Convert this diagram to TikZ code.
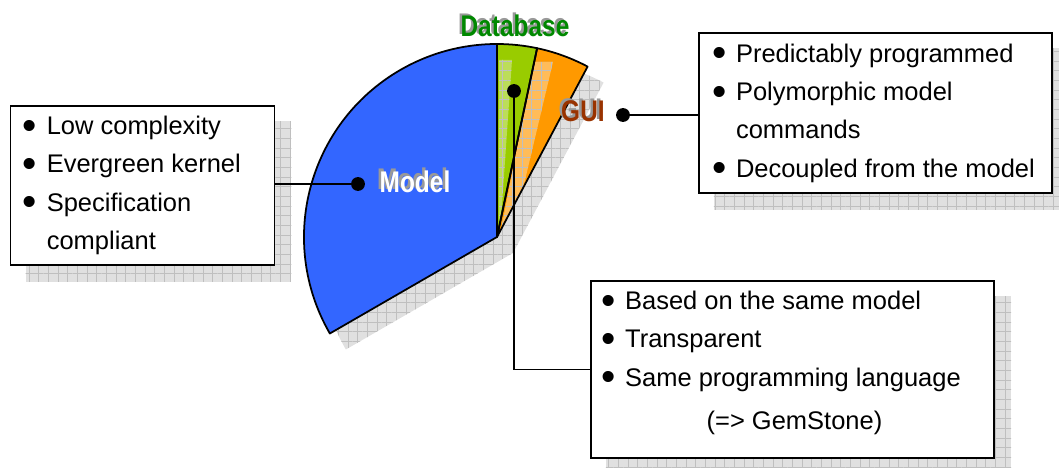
\documentclass[tikz,border=0pt]{standalone}
\usepackage{fontspec}
\setmainfont{Liberation Sans}
\newfontfamily\titlefont[FakeStretch=0.82]{Liberation Sans}
\usetikzlibrary{patterns.meta,backgrounds}

\definecolor{modelblue}{HTML}{3366FF}
\definecolor{dbgreen}{HTML}{99CC00}
\definecolor{guiorange}{HTML}{FF9900}
\definecolor{dbtext}{HTML}{008800}
\definecolor{guitext}{HTML}{993300}

\newcommand\bitem{\makebox[13.6pt][l]{\raisebox{-2.6pt}{\scalebox{1.6}{\textbullet}}}}
\newcommand\bcont{\hspace*{13.6pt}}

\begin{document}
\begin{tikzpicture}[x=0.02cm,y=0.02cm,
  wedge/.style={draw=black,line width=1pt,line join=round},
  gridlines/.style={pattern color=black!25,pattern={Hatch[angle=0,distance=5.5pt,line width=0.35pt]}},
  shadowgrid/.style={fill=black!12,postaction={gridlines}},
  glare/.style={fill=white,fill opacity=0.35,postaction={gridlines,fill opacity=0.6}},
  box/.style={draw=black,line width=1pt,fill=white,inner sep=0pt},
  boxtext/.style={anchor=west,align=left,inner sep=0pt,font=\fontsize{14.5}{21.8}\selectfont},
  title/.style={inner sep=0pt,font=\titlefont\fontsize{17}{20}\selectfont\bfseries},
  dot/.style={circle,fill=black,inner sep=0pt,minimum size=7.9pt},
  link/.style={line width=1pt}]
\useasboundingbox (0,0) rectangle (1059,467);
\coordinate (C) at (497,230);

% shadow of the pie
\fill[shadowgrid] ([shift={(16,-16)}]C) -- ++(210:193) arc[start angle=210,end angle=62,radius=193] -- cycle;

% the three parts
\foreach \a/\b/\c in {210/90/modelblue,90/78/dbgreen,78/62/guiorange}
  \fill[\c] (C) -- ++(\a:193) arc[start angle=\a,end angle=\b,radius=193] -- cycle;
\begin{scope}
  \clip (C) -- ++(90:193) arc[start angle=90,end angle=78,radius=193] -- cycle;
  \fill[glare] (499,407) -- (512,407) -- (500,234) -- (499,234) -- cycle;
\end{scope}
\begin{scope}
  \clip (C) -- ++(78:193) arc[start angle=78,end angle=62,radius=193] -- cycle;
  \fill[glare] (534,405) -- (553,405) -- (517,253) -- (500,232) -- cycle;
\end{scope}
\foreach \a/\b in {210/90,90/78,78/62}
  \draw[wedge] (C) -- ++(\a:193) arc[start angle=\a,end angle=\b,radius=193] -- cycle;

% labels
\node[title,text=black!40] (dbsh) at (512.5,443.5) {Database};
\node[title,text=dbtext] (db) at (515,441) {Database};
\node[title,text=black!40] (guish) at (580.5,357.5) {GUI};
\node[title,text=guitext] (gui) at (583,355.5) {GUI};
\node[title,text=black!40] (modelsh) at (412.5,288) {Model};
\node[title,text=white] (model) at (415,285.5) {Model};

% boxes
\node[box,minimum width=150.3pt,minimum height=90.2pt] (b1) at (142.5,281.5) {};
\node[box,minimum width=201.3pt,minimum height=90.7pt] (b2) at (875.5,354) {};
\node[box,minimum width=229.6pt,minimum height=100.4pt] (b3) at (792.5,97.5) {};
\begin{scope}[on background layer]
  \foreach \b in {b1,b2,b3}
    \fill[shadowgrid] ([shift={(16,-16)}]\b.south west) rectangle ([shift={(16,-16)}]\b.north east);
\end{scope}

\node[boxtext] (t1) at ([shift={(13,0)}]b1.west)
  {\bitem Low complexity\\ \bitem Evergreen kernel\\ \bitem Specification\\ \bcont compliant};
\node[boxtext] (t2) at ([shift={(14,0)}]b2.west)
  {\bitem Predictably programmed\\ \bitem Polymorphic model\\ \bcont commands\\ \bitem Decoupled from the model};
\node[boxtext] (t3) at ([shift={(11,6.5)}]b3.west)
  {\bitem Based on the same model\\ \bitem Transparent\\ \bitem Same programming language\\[2.8pt]
   \hspace*{60pt}(=> GemStone)};

% connectors
\node[dot] (dm) at (358,283) {};
\node[dot] (dg) at (623,352) {};
\node[dot] (dd) at (514,376) {};
\draw[link] (dm) -- (dm -| b1.east);
\draw[link] (dg) -- (dg -| b2.west);
\draw[link] (dd) |- (b3.west);
\end{tikzpicture}
\end{document}
